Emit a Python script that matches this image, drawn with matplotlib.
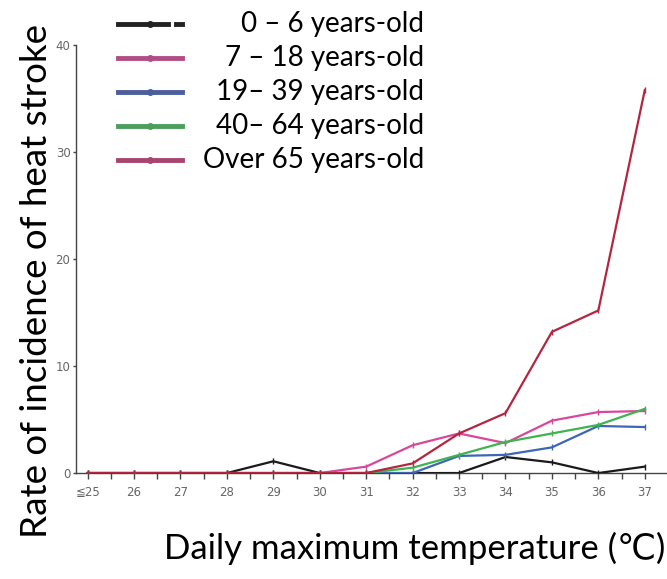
import matplotlib
matplotlib.use('Agg')
import matplotlib.pyplot as plt
from matplotlib.lines import Line2D
from matplotlib.ticker import MultipleLocator

# daily maximum temperature categories
temps = ['≦25', '26', '27', '28', '29', '30', '31', '32', '33', '34', '35', '36', '37']

age_0_6 = [0, 0, 0, 0, 1.1, 0, 0, 0, 0, 1.5, 1.0, 0, 0.6]
age_7_18 = [0, 0, 0, 0, 0, 0, 0.6, 2.6, 3.7, 2.8, 4.9, 5.7, 5.8]
age_19_39 = [0, 0, 0, 0, 0, 0, 0, 0, 1.6, 1.7, 2.4, 4.4, 4.3]
age_40_64 = [0, 0, 0, 0, 0, 0, 0, 0.5, 1.7, 2.9, 3.7, 4.5, 6.0]
age_65 = [0, 0, 0, 0, 0, 0, 0, 0.9, 3.7, 5.6, 13.2, 15.2, 35.8]

labels = ['0 – 6 years-old', '7 – 18 years-old', '19– 39 years-old',
          '40– 64 years-old', 'Over 65 years-old']
line_colors = ['#1a1a1a', '#d8489a', '#3f66b4', '#3fb34f', '#b3263f']
handle_colors = ['#222222', '#b24d84', '#4a5e9c', '#4b9f5a', '#a8446e']

FONT = ['Lato', 'DejaVu Sans']

fig = plt.figure(figsize=(6.67, 5.79), dpi=100)
ax = fig.add_axes([0.114, 0.183, 0.884, 0.739])

x = list(range(len(temps)))
series = [age_0_6, age_7_18, age_19_39, age_40_64, age_65]
for vals, c in zip(series, line_colors):
    ax.plot(x, vals, color=c, lw=1.6, marker='|', ms=5, mew=1.0, zorder=3)

ax.set_xlim(-0.25, 12.45)
ax.set_ylim(0, 40)
ax.set_xticks(x)
ax.set_xticklabels(temps)
ax.xaxis.set_minor_locator(MultipleLocator(0.5))
ax.set_yticks([0, 10, 20, 30, 40])
ax.spines['top'].set_visible(False)
ax.spines['right'].set_visible(False)
for s in ['left', 'bottom']:
    ax.spines[s].set_color('#444444')
    ax.spines[s].set_linewidth(1.0)
ax.tick_params(axis='both', which='both', color='#444444', length=4, width=1.0,
               labelcolor='#666666', labelsize=8.5)
ax.tick_params(axis='y', length=2.5, pad=1.5)
ax.tick_params(axis='x', pad=5)
for t in ax.get_xticklabels() + ax.get_yticklabels():
    t.set_family(['Liberation Sans Narrow', 'DejaVu Sans'])

fig.text(0.054, 0.515, 'Rate of incidence of heat stroke', rotation=90,
         ha='center', va='center', fontsize=26.5, family=FONT)
fig.text(0.622, 0.053, 'Daily maximum temperature (℃)', ha='center', va='center',
         fontsize=25, family=FONT)

# legend drawn by hand so the texts line up on the right
ys = [24, 58, 92, 126, 160]
for i, (lab, c, yy) in enumerate(zip(labels, handle_colors, ys)):
    fy = 1 - yy / 579
    if i == 0:
        fig.add_artist(Line2D([118 / 667, 168 / 667], [fy, fy], color=c, lw=3.5))
        fig.add_artist(Line2D([176 / 667, 182 / 667], [fy, fy], color=c, lw=3.5))
    else:
        fig.add_artist(Line2D([118 / 667, 182 / 667], [fy, fy], color=c, lw=3.5))
    fig.add_artist(Line2D([150 / 667], [fy], color=c, marker='o', ms=4))
    fig.text(424 / 667, fy, lab, ha='right', va='center', fontsize=20, family=FONT)

fig.savefig('out.png', dpi=100)
